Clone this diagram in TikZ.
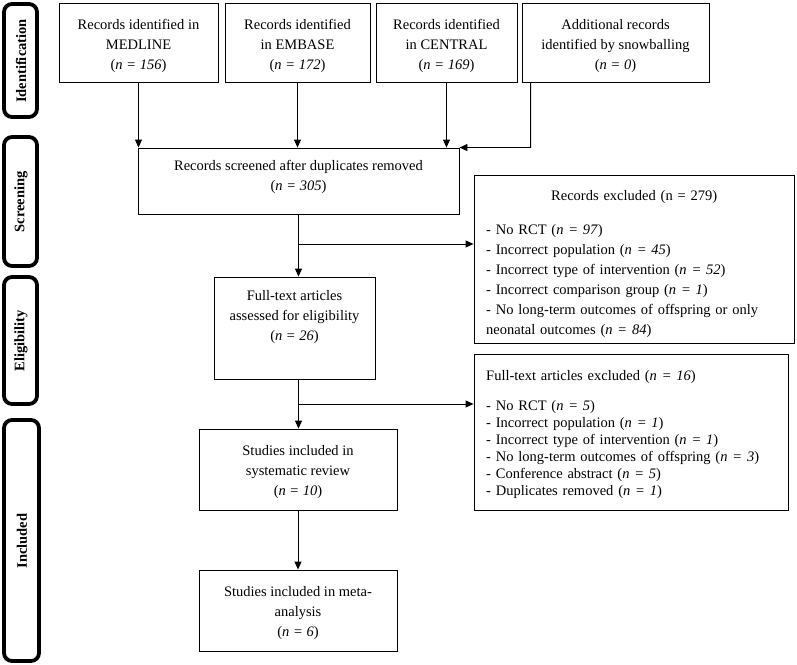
\documentclass[tikz,border=0pt]{standalone}
\usepackage{fontspec}
\setmainfont{Liberation Serif}
\usetikzlibrary{arrows.meta,calc}
\newcommand\fsz{\fontsize{14.5}{20}\selectfont}
\newcommand\fsy{\fontsize{14.5}{17}\selectfont}
\tikzset{
  box/.style={draw, line width=0.9pt, align=center, inner sep=0pt, font=\fsz},
  side/.style={draw, line width=3.8pt, rounded corners=8pt, inner sep=0pt},
  sidetxt/.style={rotate=90, font=\fsz\bfseries},
  arr/.style={line width=0.9pt, -{Triangle[length=8pt,width=7pt]}},
  ln/.style={line width=0.9pt}
}
\begin{document}
\begin{tikzpicture}[x=1pt,y=-1pt]
\useasboundingbox (0,0) rectangle (797,664);
% side labels
\node[side, minimum width=33pt, minimum height=113pt] (sident) at (20.5,60.5) {};
\node[sidetxt] (tident) at (21,61) {Identification};
\node[side, minimum width=33pt, minimum height=129pt] (sscreen) at (20.5,201.5) {};
\node[sidetxt] (tscreen) at (21,202) {Screening};
\node[side, minimum width=33pt, minimum height=127pt] (selig) at (20.5,340.5) {};
\node[sidetxt] (telig) at (21,341) {Eligibility};
\node[side, minimum width=35pt, minimum height=241pt] (sincl) at (21.5,540.5) {};
\node[sidetxt] (tincl) at (22,541) {Included};
% top boxes
\node[box, minimum width=159pt, minimum height=79pt] (medline) at (138.5,42.5)
  {\\[-2pt]Records identified in\\MEDLINE\\(\textit{n = 156})};
\node[box, minimum width=145pt, minimum height=79pt] (embase) at (297.5,42.5)
  {\\[-2pt]Records identified\\in EMBASE\\(\textit{n = 172})};
\node[box, minimum width=141pt, minimum height=79pt] (central) at (446.5,42.5)
  {\\[-2pt]Records identified\\in CENTRAL\\(\textit{n = 169})};
\node[box, minimum width=187pt, minimum height=79pt] (snow) at (615.5,42.5)
  {\\[-2pt]Additional records\\identified by snowballing\\(\textit{n = 0})};
% screening
\node[box, minimum width=321pt, minimum height=66pt] (screen) at (298.5,181)
  {Records screened after duplicates removed\\(\textit{n = 305})\\[-14pt]\strut};
% full text
\node[box, minimum width=161pt, minimum height=102pt] (full) at (294.5,328)
  {Full-text articles\\assessed for eligibility\\(\textit{n = 26})\\\strut};
% studies
\node[box, minimum width=198pt, minimum height=81pt] (studies) at (298,469.5)
  {\\[-4pt]Studies included in\\systematic review\\(\textit{n = 10})};
\node[box, minimum width=198pt, minimum height=81pt] (meta) at (298,610.5)
  {\\[-5pt]Studies included in meta-\\analysis\\(\textit{n = 6})};
% excluded boxes
\node[draw, line width=0.9pt, minimum width=320pt, minimum height=168pt, inner sep=0pt] (excl1) at (634,259) {};
\node[font=\fsz, align=left, text width=296pt, inner sep=0pt, anchor=north west] (excl1t) at (486,190)
  {\centering Records excluded (n = 279)\par\raggedright\vspace{14pt}%
   - No RCT (\textit{n = 97})\\
   - Incorrect population (\textit{n = 45})\\
   - Incorrect type of intervention (\textit{n = 52})\\
   - Incorrect comparison group (\textit{n = 1})\\
   - No long-term outcomes of offspring or only\\
   neonatal outcomes (\textit{n = 84})};
\node[draw, line width=0.9pt, minimum width=314pt, minimum height=156pt, inner sep=0pt] (excl2) at (631,432) {};
\node[font=\fsy, align=left, text width=290pt, inner sep=0pt, anchor=north west] (excl2t) at (486,370)
  {Full-text articles excluded (\textit{n = 16})\\[13pt]
   - No RCT (\textit{n = 5})\\
   - Incorrect population (\textit{n = 1})\\
   - Incorrect type of intervention (\textit{n = 1})\\
   - No long-term outcomes of offspring (\textit{n = 3})\\
   - Conference abstract (\textit{n = 5})\\
   - Duplicates removed (\textit{n = 1})};
% connectors
\draw[arr] (medline.south) -- (medline.south |- screen.north);
\draw[arr] (embase.south) -- (embase.south |- screen.north);
\draw[arr] (central.south) -- (central.south |- screen.north);
\coordinate (sbend) at ($(snow.south west)+(9,65)$);
\draw[arr] ($(snow.south west)+(9,0)$) -- (sbend) -- (screen.north east);
\draw[arr] (screen.south) -- (screen.south |- full.north);
\coordinate (b1) at (299,244);
\draw[arr] (b1) -- (b1 -| excl1.west);
\draw[arr] (full.south -| screen.south) -- (screen.south |- studies.north);
\coordinate (b2) at (299,404);
\draw[arr] (b2) -- (b2 -| excl2.west);
\draw[arr] (studies.south) -- (meta.north);
\end{tikzpicture}
\end{document}
